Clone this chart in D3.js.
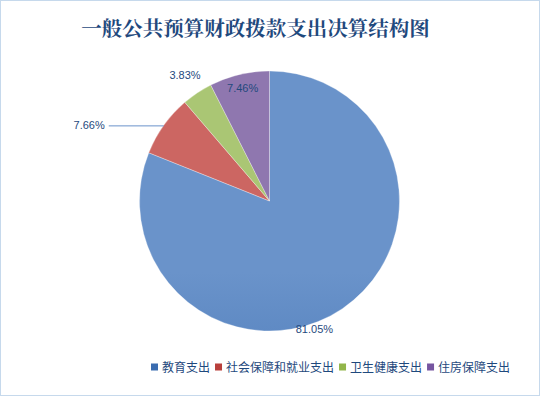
<!DOCTYPE html>
<html>
<head>
<meta charset="utf-8">
<script src="https://cdn.jsdelivr.net/npm/d3@7"></script>
<style>
  body { margin: 0; background: #fff; }
  svg { display: block; }
</style>
</head>
<body>
<svg id="chart" width="540" height="396"></svg>
<script>
// data
var categories = ["教育支出", "社会保障和就业支出", "卫生健康支出", "住房保障支出"];
var values = [81.05, 7.66, 3.83, 7.46];
var labels = ["81.05%", "7.66%", "3.83%", "7.46%"];
var colorsTop = ["#6A93CA", "#CC6662", "#AAC674", "#8F77AF"];
var colorsBottom = ["#3A6CB0", "#B93F3B", "#92B54A", "#7655A0"];

var svg = d3.select("#chart");
var W = 540, H = 396;
var cx = 269.5, cy = 201, r = 130;

// frame
svg.append("rect").attr("x", 0.5).attr("y", 0.5).attr("width", W - 1).attr("height", H - 1)
  .attr("fill", "#fff").attr("stroke", "#C6D9EC");

// title
svg.append("text").attr("x", 255.5).attr("y", 36).attr("text-anchor", "middle")
  .attr("font-family", "'Noto Serif CJK SC','Noto Sans CJK SC',serif").attr("font-size", 20.5)
  .attr("font-weight", "bold").attr("fill", "#1F497D")
  .text("一般公共预算财政拨款支出决算结构图");

// gradients (top light -> bottom dark, excel style)
var defs = svg.append("defs");
colorsTop.forEach(function(c, i) {
  var g = defs.append("linearGradient").attr("id", "g" + i)
    .attr("gradientUnits", "userSpaceOnUse")
    .attr("x1", cx).attr("y1", cy - r).attr("x2", cx).attr("y2", cy + r);
  g.append("stop").attr("offset", "0%").attr("stop-color", c);
  g.append("stop").attr("offset", "100%").attr("stop-color", colorsBottom[i]);
});

var pie = d3.pie().sort(null).value(function(d) { return d; });
var arc = d3.arc().innerRadius(0).outerRadius(r);
var arcs = pie(values);

var g = svg.append("g").attr("transform", "translate(" + cx + "," + cy + ")");
g.selectAll("path").data(arcs).enter().append("path")
  .attr("d", arc)
  .attr("fill", function(d, i) { return "url(#g" + i + ")"; })
  .attr("stroke", "#fff").attr("stroke-width", 0.5).attr("stroke-opacity", 0.6);

// data labels: radial factor + nudge (best-fit placement)
var labelK = [1.0, 1.0, 1.17, 0.89];
var labelNudge = [[-28, 20], [-59, 0], [0, 0], [0, 0]];
arcs.forEach(function(d, i) {
  var a = (d.startAngle + d.endAngle) / 2;
  var ex = Math.sin(a) * r, ey = -Math.cos(a) * r;
  var lx = Math.sin(a) * r * labelK[i] + labelNudge[i][0];
  var ly = -Math.cos(a) * r * labelK[i] + labelNudge[i][1];
  if (i === 1) {
    // leader line to slice edge
    g.append("line").attr("x1", lx + 4).attr("y1", ly + 0.5).attr("x2", ex).attr("y2", ly + 0.5)
      .attr("stroke", "#6A93CA").attr("stroke-width", 1);
  }
  g.append("text").attr("x", lx).attr("y", ly + 4).attr("text-anchor", i === 1 ? "end" : "middle")
    .attr("font-family", "'Liberation Sans',Arial,sans-serif").attr("font-size", 11)
    .attr("fill", "#1F497D").text(labels[i]);
});

// legend
var legend = svg.append("g").attr("transform", "translate(151,367)");
var x = 0;
categories.forEach(function(c, i) {
  var item = legend.append("g").attr("transform", "translate(" + x + ",0)");
  item.append("rect").attr("x", 0).attr("y", -3.5).attr("width", 7).attr("height", 7).attr("fill", colorsBottom[i]);
  var t = item.append("text").attr("x", 11).attr("y", 4.5)
    .attr("font-family", "'Noto Sans CJK SC',sans-serif").attr("font-size", 12)
    .attr("fill", "#1F497D").text(c);
  x += 11 + t.node().getComputedTextLength() + 5;
});
</script>
</body>
</html>
